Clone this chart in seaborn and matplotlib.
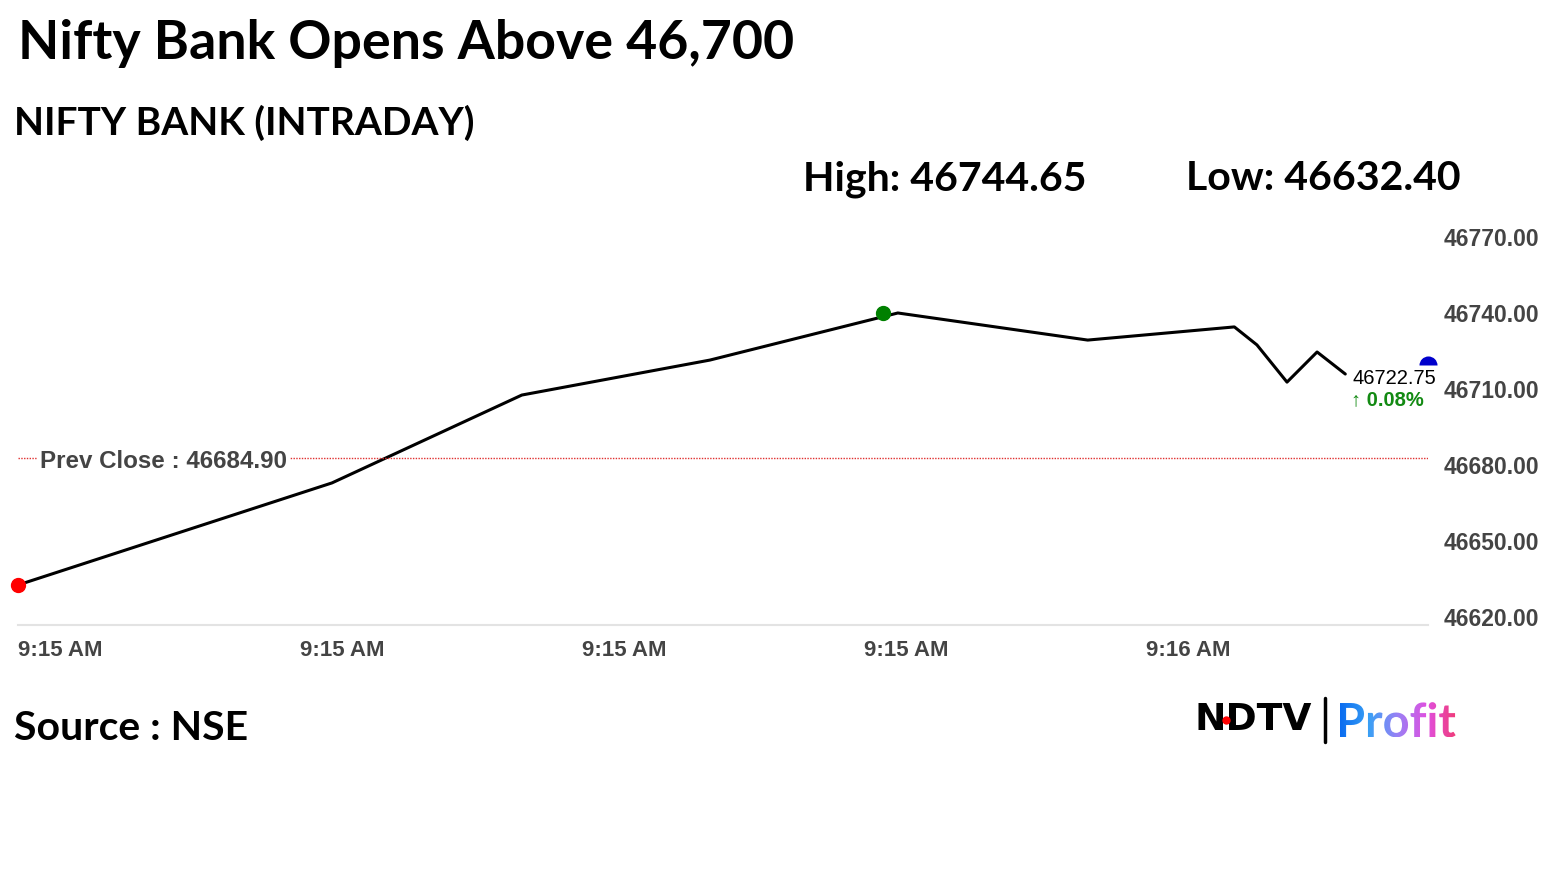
"""Nifty Bank intraday line chart (NDTV Profit style)."""

import matplotlib
matplotlib.use("Agg")
import matplotlib.pyplot as plt
import matplotlib.transforms as mtransforms
import numpy as np
import seaborn as sns
from matplotlib.font_manager import FontProperties
from matplotlib.patches import PathPatch
from matplotlib.textpath import TextPath

# seconds after 9:15:00 and index level
secs = [0, 16.7, 26.8, 36.8, 46.8, 56.9, 64.7, 65.9, 67.5, 69.1, 70.6]
level = [46634.6, 46674.9, 46709.6, 46723.4, 46742.0, 46731.3, 46736.5,
         46729.4, 46714.7, 46726.6, 46717.9]
high_sec, high_val = 46.0, 46742.0
last_sec, last_val = 75.0, 46721.5
prev_close = 46684.90

tick_secs = [0, 15, 30, 45, 60, 75]
tick_labels = ["9:15 AM", "9:15 AM", "9:15 AM", "9:15 AM", "9:16 AM", ""]
y_ticks = [46620, 46650, 46680, 46710, 46740, 46770]

DARK = "#444444"
LBL = ["Liberation Sans", "DejaVu Sans"]
HEAD = ["Lato", "DejaVu Sans"]

sns.set_theme(style="white")
plt.rcParams["font.family"] = LBL

W, H = 1555, 874
fig = plt.figure(figsize=(W / 100, H / 100), dpi=100)
fig.patch.set_facecolor("white")


def fx(px):
    return px / W


def fy(py):
    return 1 - py / H


ax = fig.add_axes([fx(18), fy(624.5), fx(1428) - fx(18), fy(237) - fy(624.5)])
sns.lineplot(x=secs, y=level, ax=ax, color="black", linewidth=2.2, sort=False)

ax.axhline(prev_close, color="#e03030", linestyle=(0, (1, 1)), linewidth=1)
ax.text(0.0156, prev_close, "Prev Close : 46684.90",
        transform=mtransforms.blended_transform_factory(ax.transAxes, ax.transData)
        + mtransforms.ScaledTranslation(0, -3.5 / 100, fig.dpi_scale_trans),
        ha="left", va="center", fontsize=17.4, fontweight="bold", color=DARK,
        bbox=dict(facecolor="white", edgecolor="none", pad=2))

ax.plot([secs[0]], [level[0]], "o", color="red", markersize=10, zorder=5, clip_on=False)
ax.plot([high_sec], [high_val], "o", color="green", markersize=10, zorder=5)
ax.plot([last_sec], [last_val], "o", color="#0000cc", markersize=13, fillstyle="top",
        markerfacecoloralt="none", markeredgewidth=0, zorder=5, clip_on=False)

ax.text(71.0, 46716.3, "46722.75", ha="left", va="center", fontsize=14.5, color="black")
ax.text(70.9, 46707.6, "\u2191 0.08%", ha="left", va="center", fontsize=14.5,
        fontweight="bold", color="#138a13", family=LBL)

ax.set_xlim(0, 75)
ax.set_ylim(46619, 46772)
ax.set_xticks(tick_secs)
ax.set_xticklabels(tick_labels, ha="left")
ax.set_yticks(y_ticks)
ax.set_yticklabels([f"{v:.2f}" for v in y_ticks])
ax.yaxis.tick_right()
for s in ["top", "left", "right"]:
    ax.spines[s].set_visible(False)
ax.spines["bottom"].set_color("#e3e3e3")
ax.spines["bottom"].set_linewidth(1.5)
ax.tick_params(axis="x", direction="out", length=6, width=1, color="#d8d8d8", pad=5,
               labelsize=16, labelcolor=DARK)
ax.tick_params(axis="y", length=0, pad=11, labelsize=16.5, labelcolor=DARK)
for lab in ax.get_xticklabels() + ax.get_yticklabels():
    lab.set_fontweight("bold")
up = mtransforms.ScaledTranslation(0, 5 / 100, fig.dpi_scale_trans)
for lab in ax.get_yticklabels():
    lab.set_transform(lab.get_transform() + up)
ax.grid(False)

# headings
fig.text(fx(18), fy(44), "Nifty Bank Opens Above 46,700", ha="left", va="center",
         fontsize=38.6, fontweight="bold", family=HEAD, color="black")
fig.text(fx(14), fy(123), "NIFTY BANK (INTRADAY)", ha="left", va="center",
         fontsize=28, fontweight="bold", family=HEAD, color="black")
fig.text(fx(803), fy(179), "High: 46744.65", ha="left", va="center",
         fontsize=29.5, fontweight="bold", family=HEAD, color="black")
fig.text(fx(1186), fy(179), "Low: 46632.40", ha="left", va="center",
         fontsize=29.5, fontweight="bold", family=HEAD, color="black")
fig.text(fx(14), fy(729), "Source : NSE", ha="left", va="center",
         fontsize=29.5, fontweight="bold", family=HEAD, color="black")

# logo
lax = fig.add_axes([0, 0, 1, 1], facecolor="none")
lax.set_xlim(0, W)
lax.set_ylim(0, H)
lax.axis("off")
lax.text(1195, H - 720, "NDTV", ha="left", va="center", fontsize=27,
         fontweight="bold", family=["DejaVu Sans"], color="black")
lax.plot([1226], [H - 720], "o", color="red", markersize=5, zorder=5)
lax.plot([1325, 1325], [H - 698, H - 742], color="black", linewidth=2.5)
tp = TextPath((1336, H - 737), "Profit", size=47,
              prop=FontProperties(family="Lato", weight="bold"))
patch = PathPatch(tp, facecolor="none", edgecolor="none")
lax.add_patch(patch)
ext = tp.get_extents()
grad = np.linspace(0, 1, 256).reshape(1, -1)
cmap = matplotlib.colors.LinearSegmentedColormap.from_list(
    "logo", ["#0a6cf0", "#3aa0f5", "#9a80f5", "#e050e0", "#f03c7a"])
im = lax.imshow(grad, cmap=cmap, aspect="auto",
                extent=[ext.x0, ext.x1, ext.y0, ext.y1], origin="lower")
im.set_clip_path(patch)
lax.set_xlim(0, W)
lax.set_ylim(0, H)

fig.savefig("out.png", dpi=100, facecolor="white")
